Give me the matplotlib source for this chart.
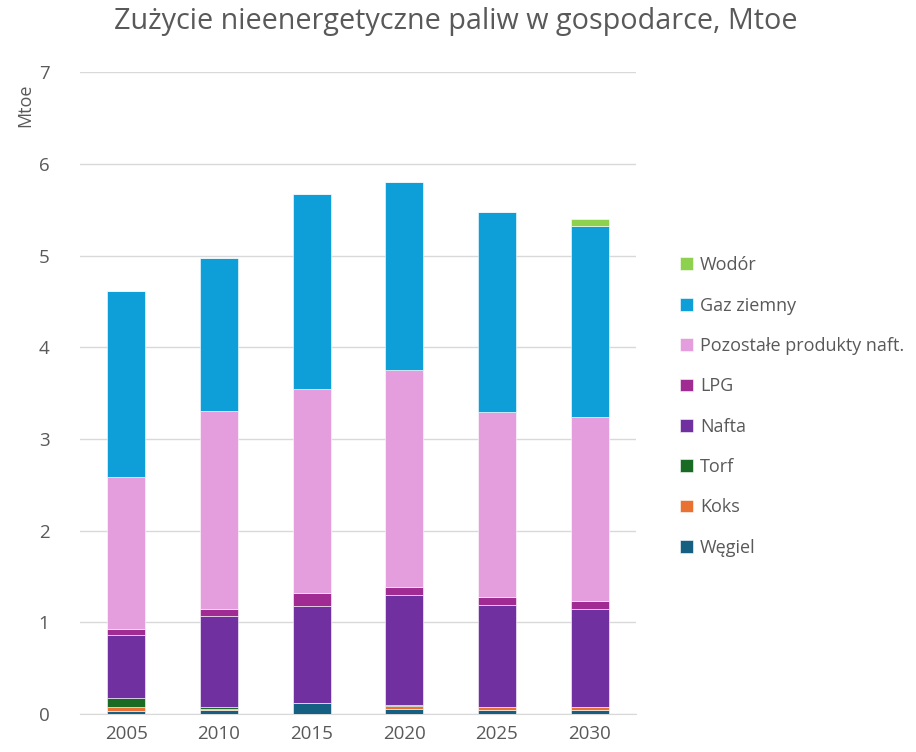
import numpy as np
import matplotlib.pyplot as plt

plt.rcParams['font.family'] = ['Open Sans', 'DejaVu Sans']

years = ['2005', '2010', '2015', '2020', '2025', '2030']
wegiel = [0.035, 0.045, 0.125, 0.055, 0.04, 0.04]
koks = [0.045, 0.005, 0.0, 0.03, 0.035, 0.035]
torf = [0.09, 0.025, 0.0, 0.015, 0.0, 0.0]
nafta = [0.69, 0.99, 1.05, 1.2, 1.11, 1.065]
lpg = [0.07, 0.075, 0.14, 0.09, 0.09, 0.09]
pozostale = [1.66, 2.16, 2.23, 2.36, 2.02, 2.01]
gaz = [2.02, 1.67, 2.13, 2.05, 2.18, 2.08]
wodor = [0.0, 0.0, 0.0, 0.0, 0.0, 0.08]

series = [
    ('Węgiel', wegiel, '#156082'),
    ('Koks', koks, '#E97132'),
    ('Torf', torf, '#196B24'),
    ('Nafta', nafta, '#7030A0'),
    ('LPG', lpg, '#A02B93'),
    ('Pozostałe produkty naft.', pozostale, '#E59EDD'),
    ('Gaz ziemny', gaz, '#0E9FD8'),
    ('Wodór', wodor, '#8ED14F'),
]

fig = plt.figure(figsize=(9.16, 7.52), dpi=100)
ax = fig.add_axes([0.0873, 0.0505, 0.607, 0.8535])

x = np.arange(len(years))
bottom = np.zeros(len(years))
handles = []
for name, vals, col in series:
    v = np.array(vals)
    b = ax.bar(x, v, 0.41, bottom=bottom, color=col, label=name,
               edgecolor='white', linewidth=0.4, zorder=3)
    handles.append(b)
    bottom += v

ax.set_xlim(-0.5, len(years) - 0.5)
ax.set_ylim(0, 7)
ax.set_yticks(range(0, 8))
ax.set_xticks(x)
ax.set_xticklabels(years)
ax.grid(axis='y', color='#D9D9D9', linewidth=1, zorder=0)
for s in ['top', 'right', 'left']:
    ax.spines[s].set_visible(False)
ax.spines['bottom'].set_color('#D9D9D9')
ax.tick_params(length=0, labelsize=13.5, colors='#595959')
ax.tick_params(axis='y', pad=22)
ax.tick_params(axis='x', pad=8)

fig.text(0.028, 0.86, 'Mtoe', rotation=90, fontsize=13, color='#595959',
         ha='center', va='center')
fig.text(0.497, 0.972, 'Zużycie nieenergetyczne paliw w gospodarce, Mtoe',
         fontsize=20.7, color='#595959', ha='center', va='center')

leg = fig.legend(handles[::-1], [s[0] for s in series][::-1],
                 loc='upper left', bbox_to_anchor=(0.725, 0.681),
                 frameon=False, fontsize=13, labelspacing=1.24,
                 handlelength=0.7, handleheight=0.7, handletextpad=0.4)
for t in leg.get_texts():
    t.set_color('#595959')

fig.savefig('out.png', dpi=100)
